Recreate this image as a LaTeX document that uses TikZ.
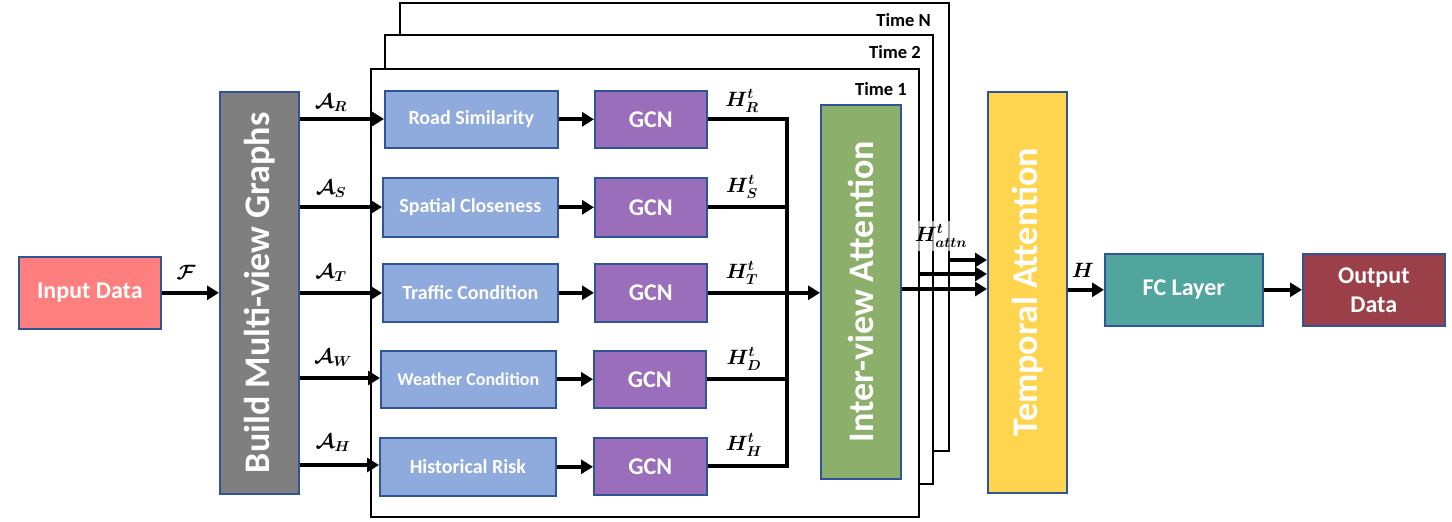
\documentclass[tikz,border=0pt]{standalone}
\usepackage{amsmath,bm}
\usepackage{fontspec}
\setmainfont{Carlito}
\usetikzlibrary{arrows.meta,calc}
\definecolor{bord}{HTML}{2F5597}
\definecolor{cinput}{HTML}{FF7F7F}
\definecolor{cbuild}{HTML}{7F7F7F}
\definecolor{cblue}{HTML}{8FAADC}
\definecolor{cgcn}{HTML}{9B6EBB}
\definecolor{cgreen}{HTML}{8CAF6C}
\definecolor{cyellow}{HTML}{FFD550}
\definecolor{cteal}{HTML}{50A59D}
\definecolor{cout}{HTML}{9B3F49}
\begin{document}
\begin{tikzpicture}[x=1pt,y=-1pt,
  blk/.style={draw=bord,line width=1.6pt,inner sep=0pt,anchor=north west,text=white,font=\bfseries},
  frm/.style={draw=black,line width=2pt,fill=white,inner sep=0pt,anchor=north west},
  conn/.style={line width=4pt},
  arr/.style={line width=4pt,-{Triangle[length=12pt,width=14pt]}},
  lab/.style={font=\fontsize{20}{23}\selectfont\boldmath,inner sep=1pt},
  timel/.style={font=\fontsize{18.5}{22}\selectfont\bfseries,anchor=east,inner sep=0pt},
  vtxt/.style={rotate=90,text=white,font=\fontsize{36}{40}\selectfont\bfseries},
  small/.style={font=\fontsize{20}{24}\selectfont\bfseries},
  gcnf/.style={font=\fontsize{24}{28}\selectfont\bfseries},
  mid/.style={font=\fontsize{24}{26}\selectfont\bfseries}
]
\useasboundingbox (0,0) rectangle (1452,522);

% time frames
\node[frm,minimum width=549pt,minimum height=448pt] (tN) at (399,2) {};
\node[timel] (lN) at (931,20) {Time N};
\node[frm,minimum width=548pt,minimum height=449pt] (t2) at (384,34) {};
\node[timel] (l2) at (921,52) {Time 2};
\node[frm,minimum width=548pt,minimum height=448pt] (t1) at (370,68) {};
\node[timel] (l1) at (907,89) {Time 1};

% boxes
\node[blk,fill=cinput,minimum width=142pt,minimum height=72pt,mid] (inp) at (18,256) {Input Data};
\node[blk,fill=cbuild,minimum width=79pt,minimum height=402pt] (build) at (219,91) {};
\node[vtxt] at (build.center) {Build Multi-view Graphs};

\node[blk,fill=cblue,minimum width=173pt,minimum height=57pt,small] (rs) at (384,90) {Road Similarity};
\node[blk,fill=cblue,minimum width=175pt,minimum height=59pt,small] (sc) at (382,177) {Spatial Closeness};
\node[blk,fill=cblue,minimum width=175pt,minimum height=58pt,small] (tc) at (382,263) {Traffic Condition};
\node[blk,fill=cblue,minimum width=175pt,minimum height=57pt,font=\fontsize{18}{21}\selectfont\bfseries] (wc) at (380,350) {Weather Condition};
\node[blk,fill=cblue,minimum width=176pt,minimum height=58pt,small] (hr) at (379,437) {Historical Risk};

\node[blk,fill=cgcn,minimum width=112pt,minimum height=57pt,gcnf] (g1) at (594,90) {GCN};
\node[blk,fill=cgcn,minimum width=112pt,minimum height=59pt,gcnf] (g2) at (594,177) {GCN};
\node[blk,fill=cgcn,minimum width=112pt,minimum height=58pt,gcnf] (g3) at (594,263) {GCN};
\node[blk,fill=cgcn,minimum width=112pt,minimum height=57pt,gcnf] (g4) at (593,350) {GCN};
\node[blk,fill=cgcn,minimum width=113pt,minimum height=57pt,gcnf] (g5) at (593,437) {GCN};

\node[blk,fill=cgreen,minimum width=80pt,minimum height=374pt] (inter) at (820,104) {};
\node[vtxt] at (inter.center) {Inter-view Attention};

\node[blk,fill=cyellow,minimum width=79pt,minimum height=401pt] (temp) at (987,91) {};
\node[vtxt] at (temp.center) {Temporal Attention};

\node[blk,fill=cteal,minimum width=158pt,minimum height=72pt,mid] (fc) at (1104,253) {FC Layer};
\node[blk,fill=cout,minimum width=142pt,minimum height=72pt,mid,align=center] (outp) at (1302,253) {Output\\[3pt]Data};

% connectors
\draw[arr] (inp.east) -- (build.west |- inp.east);
\node[lab] (lf) at (186,272) {$\mathcal{F}$};

\foreach \b/\g/\y in {rs/g1/119,sc/g2/207,tc/g3/293,wc/g4/378,hr/g5/465}{
  \draw[arr] (build.east |- 0,\y) -- (\b.west |- 0,\y);
  \draw[arr] (\b.east) -- (\g.west |- \b.east);
}
\node[lab] at (331,103) {$\mathcal{A}_{R}$};
\node[lab] at (331,189) {$\mathcal{A}_{S}$};
\node[lab] at (331,273) {$\mathcal{A}_{T}$};
\node[lab] at (333,358) {$\mathcal{A}_{W}$};
\node[lab] at (333,443) {$\mathcal{A}_{H}$};

\coordinate (bus) at (787,0);
\draw[conn] (g1.east) -- (g1.east -| bus) -- (g5.east -| bus) -- (g5.east);
\draw[conn] (g2.east) -- (g2.east -| bus);
\draw[conn] (g4.east) -- (g4.east -| bus);
\draw[arr] (g3.east) -- (inter.west |- g3.east);

\node[lab] at (742,101) {$H_{R}^{t}$};
\node[lab] at (742,187) {$H_{S}^{t}$};
\node[lab] at (742,273) {$H_{T}^{t}$};
\node[lab] at (744,359) {$H_{D}^{t}$};
\node[lab] at (744,445) {$H_{H}^{t}$};

% outputs to temporal attention
\draw[arr] (inter.east |- 0,289) -- (temp.west |- 0,289);
\draw[arr] (t1.east |- 0,274) -- (temp.west |- 0,274);
\draw[arr] (tN.east |- 0,260) -- (temp.west |- 0,260);
\node[lab,fill=white,fill opacity=0.65,text opacity=1,inner sep=3pt] at (941,236) {$H_{attn}^{t}$};

\draw[arr] (temp.east |- fc.west) -- (fc.west);
\node[lab] at (1083,270) {$H$};
\draw[arr] (fc.east) -- (outp.west);
\end{tikzpicture}
\end{document}
